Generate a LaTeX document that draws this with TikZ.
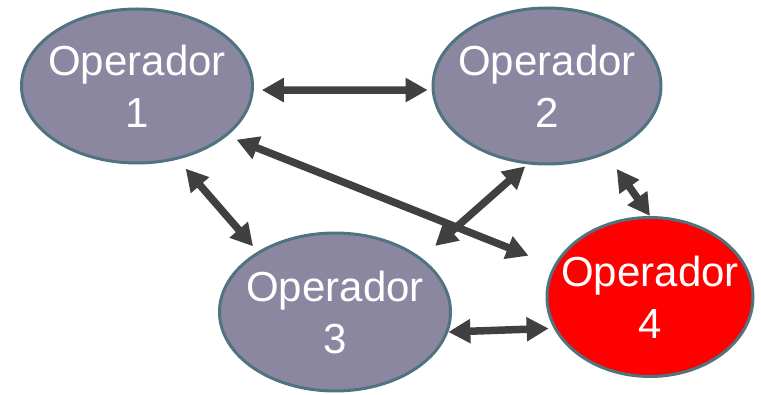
\documentclass[tikz,border=0pt]{standalone}
\usepackage{fontspec}
\setmainfont{Liberation Sans}
\usetikzlibrary{shapes.geometric,arrows.meta}

\begin{document}
\begin{tikzpicture}[x=1pt,y=-1pt,
    opnode/.style={ellipse, draw=opborder, line width=3pt, fill=opfill, text=white, inner sep=-35pt, align=center, font=\fontsize{42}{52}\selectfont},
    link/.style={draw=linkcolor, line width=7.5pt, {Triangle[length=22pt,width=23pt]}-{Triangle[length=22pt,width=23pt]}}]
        \definecolor{opfill}{RGB}{139,135,161}
        \definecolor{opborder}{RGB}{79,116,128}
        \definecolor{linkcolor}{RGB}{64,64,64}
        \useasboundingbox (0,0) rectangle (761,395);

            \node[opnode, minimum width=231pt, minimum height=154pt] (op1) at (137,86) {Operador\\1};
            \node[opnode, minimum width=228pt, minimum height=156pt] (op2) at (547,86) {Operador\\2};
            \node[opnode, minimum width=231pt, minimum height=158pt] (op3) at (335,312) {Operador\\3};
            \node[opnode, minimum width=206pt, minimum height=159pt, fill=red] (op4) at (650,297) {Operador\\4};

            \draw[link, shorten <=8pt, shorten >=4pt] (op1.-2) -- (op2.182);
            \draw[link, shorten <=10pt, shorten >=27pt] (op1.-29.7) -- (op4.162.4);
            \draw[link, shorten <=12pt, shorten >=7pt] (op1.-61.3) -- (op3.142.4);
            \draw[link, shorten <=18pt, shorten >=3pt] (op3.32.1) -- (op2.-104.8);
            \draw[link, shorten <=18pt] (op2.-49.5) -- (op4.90);
            \draw[link, shorten >=5pt] (op3.-10.6) -- (op4.-162.7);

        \end{tikzpicture}
\end{document}
